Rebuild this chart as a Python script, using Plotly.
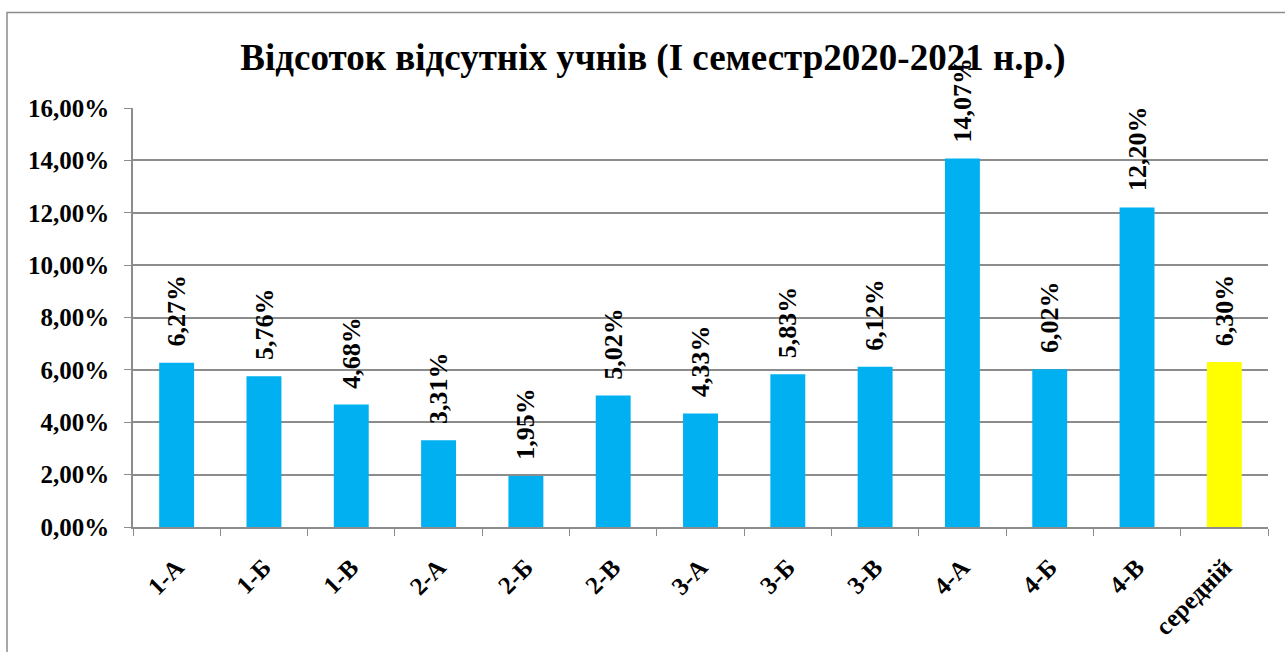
import plotly.graph_objects as go

categories = ["1-А", "1-Б", "1-В", "2-А", "2-Б", "2-В", "3-А", "3-Б", "3-В", "4-А", "4-Б", "4-В", "середній"]
values = [6.27, 5.76, 4.68, 3.31, 1.95, 5.02, 4.33, 5.83, 6.12, 14.07, 6.02, 12.20, 6.30]
labels = [f"{v:.2f}%".replace(".", ",") for v in values]
colors = ["#00B0F0"] * 12 + ["#FFFF00"]
tick_vals = [0, 2, 4, 6, 8, 10, 12, 14, 16]
tick_text = [f"{v:.2f}%".replace(".", ",") for v in tick_vals]

FONT = "Liberation Serif"

fig = go.Figure(go.Bar(
    x=categories, y=values, marker_color=colors, marker_line_width=0,
    hoverinfo="skip",
))

for c, v, t in zip(categories, values, labels):
    fig.add_annotation(x=c, y=v, text=f"<b>{t}</b>", textangle=-90, showarrow=False,
                       xanchor="center", yanchor="bottom", yshift=14,
                       font=dict(family=FONT, size=26, color="black"))

fig.update_layout(
    width=1285, height=652,
    margin=dict(l=133, r=17, t=108, b=123),
    plot_bgcolor="white", paper_bgcolor="white",
    bargap=0.6,
    showlegend=False,
    title=dict(text="<b>Відсоток відсутніх учнів (І семестр2020-2021 н.р.)</b>",
               x=653 / 1285, xanchor="center", y=1 - 57 / 652, yanchor="middle",
               font=dict(family=FONT, size=37, color="black")),
    font=dict(family=FONT, color="black"),
    shapes=[dict(type="rect", xref="paper", yref="paper",
                 x0=(7 - 133) / 1135, x1=1.05, y0=-0.5, y1=1 + (108 - 12) / 421,
                 line=dict(color="#8c8c8c", width=1.5), fillcolor="rgba(0,0,0,0)", layer="below")],
)

fig.update_xaxes(
    tickangle=-45, tickfont=dict(family=FONT, size=25, color="black", weight="bold"),
    showline=True, linecolor="#8c8c8c", linewidth=1.5,
    ticks="outside", tickson="boundaries", ticklen=7, tickcolor="#8c8c8c",
    ticklabelstandoff=14,
    showgrid=False,
)
fig.update_yaxes(
    range=[0, 16], tickvals=tick_vals, ticktext=tick_text,
    tickfont=dict(family=FONT, size=25, color="black", weight="bold"),
    showline=True, linecolor="#8c8c8c", linewidth=1.5,
    ticks="outside", ticklen=7, tickcolor="#8c8c8c",
    ticklabelstandoff=10,
    showgrid=True, gridcolor="#8c8c8c", gridwidth=1.5, zeroline=False,
)

fig.write_html("out.html", config={"displayModeBar": False},
               post_script="document.body.style.margin='0';")
